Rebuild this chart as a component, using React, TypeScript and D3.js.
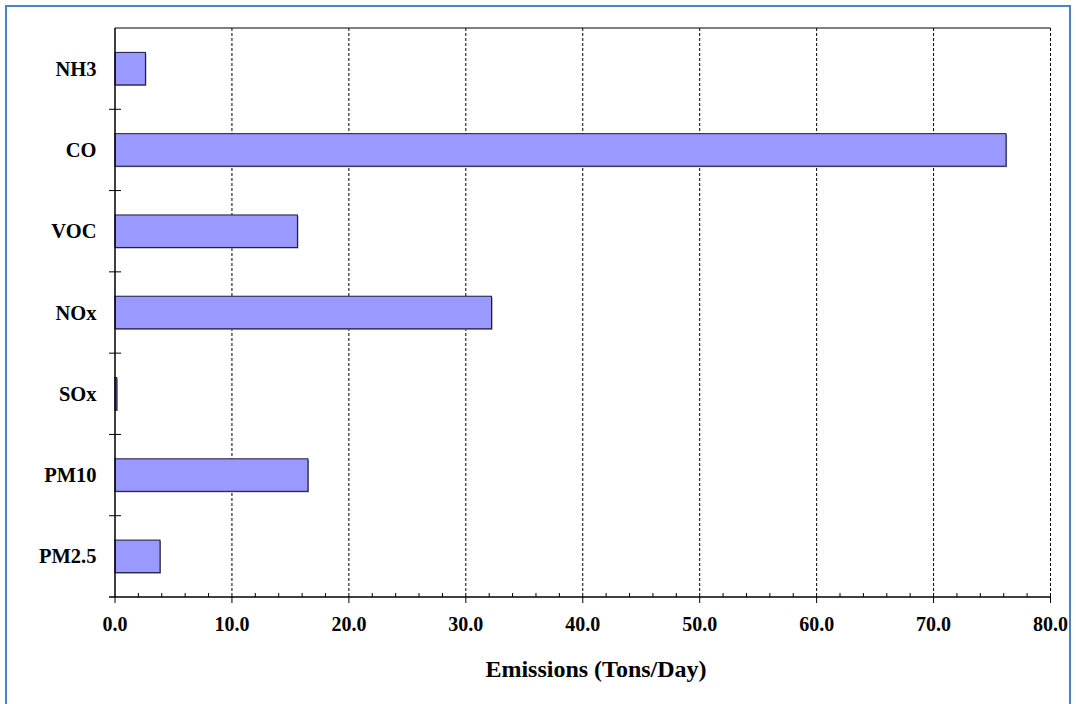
import React from "react";
import * as d3 from "d3";

const categories = ["NH3", "CO", "VOC", "NOx", "SOx", "PM10", "PM2.5"];
const values = [2.6, 76.2, 15.6, 32.2, 0.15, 16.5, 3.85];
const xTicks = [0, 10, 20, 30, 40, 50, 60, 70, 80];
const axisTitle = "Emissions (Tons/Day)";

export default function App() {
  const W = 1076, H = 704;
  const left = 115, right = 1050.5, top = 28, bottom = 597;
  const x = d3.scaleLinear().domain([0, 80]).range([left, right]);
  const y = d3.scaleBand().domain(categories).range([top, bottom]).paddingInner(0.6).paddingOuter(0.3);
  const yb = d3.scaleBand().domain(categories).range([top, bottom]);
  const minor = d3.range(0, 80, 2).filter((v) => v % 10 !== 0);
  const font = "'Liberation Serif', 'Times New Roman', Times, serif";
  return (
    <svg width={W} height={H} style={{ position: "absolute", left: 0, top: 0 }}>
      <rect x={0} y={0} width={W} height={H} fill="#fff" />
      <rect x={6} y={6} width={1064} height={720} fill="none" stroke="#4F81BD" strokeWidth={2} />
      {xTicks.filter((v) => v > 0).map((v) => (
        <line key={"g" + v} x1={x(v)} x2={x(v)} y1={top} y2={bottom} stroke="#000" strokeWidth={1} strokeDasharray="3,2" />
      ))}
      <line x1={left} x2={right} y1={top} y2={top} stroke="#000" strokeWidth={1} />
      {categories.map((c, i) => (
        <g key={c}>
          <rect x={x(0) + 1} y={(y(c) as number) + 1} width={Math.max(0, x(values[i]) - x(0))} height={y.bandwidth()} fill="#888" />
          <rect x={x(0)} y={y(c)} width={x(values[i]) - x(0)} height={y.bandwidth()} fill="#9999FF" stroke="#1a1a3a" strokeWidth={1} />
        </g>
      ))}
      <line x1={left} x2={left} y1={top} y2={bottom} stroke="#000" strokeWidth={1.5} />
      <line x1={left - 6} x2={right} y1={bottom} y2={bottom} stroke="#000" strokeWidth={1.5} />
      {categories.slice(1).map((c) => (
        <line key={"yt" + c} x1={left - 6} x2={left + 6} y1={yb(c)} y2={yb(c)} stroke="#000" strokeWidth={1} />
      ))}
      {xTicks.map((v) => (
        <line key={"t" + v} x1={x(v)} x2={x(v)} y1={bottom - 1} y2={bottom + 6} stroke="#000" strokeWidth={1} />
      ))}
      {minor.map((v) => (
        <line key={"m" + v} x1={x(v)} x2={x(v)} y1={bottom - 4} y2={bottom} stroke="#000" strokeWidth={1} />
      ))}
      {xTicks.map((v) => (
        <text key={"l" + v} x={x(v)} y={631} textAnchor="middle" fontFamily={font} fontWeight="bold" fontSize={20}>
          {v.toFixed(1)}
        </text>
      ))}
      {categories.map((c) => (
        <text key={"c" + c} x={96.5} y={(yb(c) as number) + yb.bandwidth() / 2 + 7} textAnchor="end" fontFamily={font} fontWeight="bold" fontSize={20.5}>
          {c}
        </text>
      ))}
      <text x={596} y={676.5} textAnchor="middle" fontFamily={font} fontWeight="bold" fontSize={24}>
        {axisTitle}
      </text>
    </svg>
  );
}
